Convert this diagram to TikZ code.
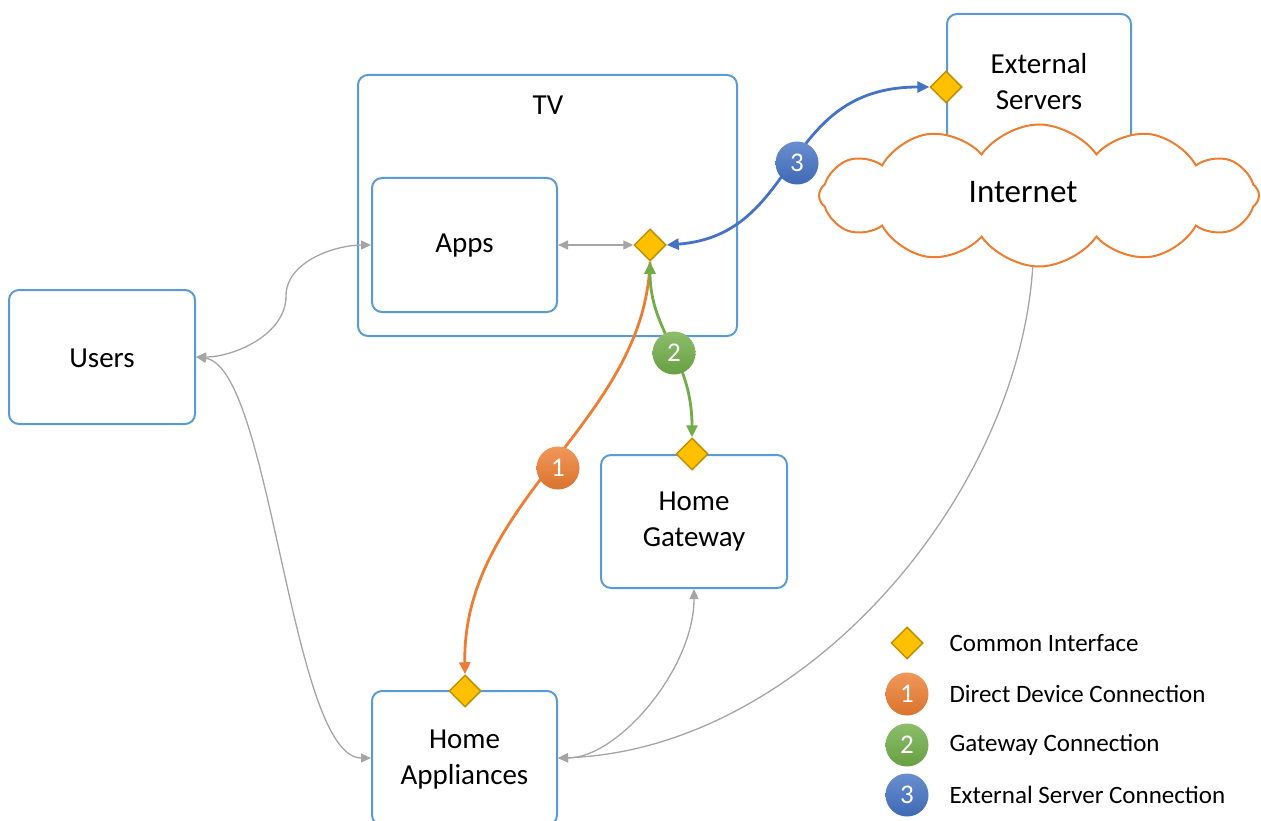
\documentclass[tikz,border=0pt]{standalone}
\usepackage{fontspec}
\setmainfont{Carlito}
\usetikzlibrary{arrows.meta,shapes.geometric,shapes.symbols}
\definecolor{boxblue}{HTML}{5B9BD5}
\definecolor{gold}{HTML}{FFC000}
\definecolor{golddark}{HTML}{BF9000}
\definecolor{orng}{HTML}{ED7D31}
\definecolor{grn}{HTML}{70AD47}
\definecolor{blu}{HTML}{4472C4}
\definecolor{gry}{HTML}{A5A5A5}
\definecolor{cloudor}{HTML}{ED7D31}
\begin{document}
\begin{tikzpicture}[x=1pt,y=-1pt,
  box/.style={draw=boxblue,line width=2pt,rounded corners=10pt,fill=white,inner sep=0pt},
  lbl/.style={font=\fontsize{29}{36}\selectfont,align=center,text=black},
  leg/.style={font=\fontsize{25}{30}\selectfont,anchor=west,text=black},
  iface/.style={diamond,draw=golddark,fill=gold,line width=1.5pt,inner sep=0pt,minimum width=32pt,minimum height=32pt},
  numc/.style={circle,inner sep=0pt,minimum size=43pt,text=white,font=\fontsize{27}{30}\selectfont},
  onum/.style={numc,top color=orng!80!white,bottom color=orng!92!black},
  gnum/.style={numc,top color=grn!80!white,bottom color=grn!92!black},
  bnum/.style={numc,top color=blu!80!white,bottom color=blu!92!black},
  greyboth/.style={draw=gry,line width=1.3pt,{Triangle[length=10pt,width=9pt]}-{Triangle[length=10pt,width=9pt]}},
  greyone/.style={draw=gry,line width=1.3pt,-{Triangle[length=10pt,width=9pt]}},
  colboth/.style={line width=2.8pt,{Triangle[length=12pt,width=11pt]}-{Triangle[length=12pt,width=11pt]}},
  colone/.style={line width=2.8pt,-{Triangle[length=12pt,width=11pt]}}
]
\useasboundingbox (0,0) rectangle (1261,821);
\clip (0,0) rectangle (1261,821);

% boxes
\node[box,minimum width=379pt,minimum height=261pt] (tv) at (547.5,205.5) {};
\node[lbl] (tvtext) at (548,105) {TV};
\node[box,minimum width=185pt,minimum height=134pt] (apps) at (464.5,245) {};
\node[lbl] (appstext) at (464.5,246) {Apps};
\node[box,minimum width=186pt,minimum height=134pt] (users) at (102,357) {};
\node[lbl] (userstext) at (102,358) {Users};
\node[box,minimum width=184pt,minimum height=200pt] (es) at (1039,114) {};
\node[lbl] (estext) at (1039,82) {External\\Servers};
\node[box,minimum width=186pt,minimum height=133pt] (gw) at (694,521.5) {};
\node[lbl] (gwtext) at (694,522) {Home\\Gateway};
\node[box,minimum width=185pt,minimum height=134pt] (ha) at (464.5,758) {};
\node[lbl] (hatext) at (464.5,760) {Home\\Appliances};

% cloud
\node[cloud,cloud puffs=12,cloud puff arc=110,cloud ignores aspect,draw=cloudor,line width=2pt,fill=white,
      minimum width=440pt,minimum height=142pt,inner sep=0pt] (inet) at (1039,195.5) {};
\node[font=\fontsize{33}{40}\selectfont] (inettext) at (1023,192) {Internet};

% interface diamonds
\node[iface] (dtv) at (650,245) {};
\node[iface] (des) at (946,87) {};
\node[iface] (dgw) at (692,454) {};
\node[iface] (dha) at (465,691) {};

% helper coordinate for the S-curve
\coordinate (ua) at (286,296);

% grey connectors
\draw[greyboth] (users.east) to[out=0,in=-90,looseness=0.9] (ua) to[out=90,in=180,looseness=0.9] (apps.west);
\draw[greyboth] (users.east) .. controls +(75,10) and +(-80,0) .. (ha.west);
\draw[greyboth] (apps.east) -- (dtv.west);
\draw[greyboth] (gw.south) .. controls +(0,80) and +(60,0) .. (ha.east);
\draw[greyone] (inet.265) .. controls +(-15,232) and +(243,-8) .. (ha.east);

% coloured connectors
\draw[colboth,draw=blu] (dtv.east) .. controls +(134,-10) and +(-150,0) .. (des.west);
\draw[colone,draw=orng] (dtv.south) .. controls +(-5,160) and +(-3,-175) .. (dha.north);
\draw[colboth,draw=grn] (dtv.south) .. controls +(0,70) and +(0,-80) .. (dgw.north);

% numbered circles
\node[onum] (n1) at (558,468) {1};
\node[gnum] (n2) at (674,353) {2};
\node[bnum] (n3) at (797,163) {3};

% legend
\node[iface] (lgd) at (907,643) {};
\node[leg] (lgdt) at (946,643) {Common Interface};
\node[onum] (lg1) at (907,694) {1};
\node[leg] (lg1t) at (946,694) {Direct Device Connection};
\node[gnum] (lg2) at (907,745) {2};
\node[leg] (lg2t) at (946,745) {Gateway Connection};
\node[bnum] (lg3) at (907,795) {3};
\node[leg] (lg3t) at (946,795) {External Server Connection};
\end{tikzpicture}
\end{document}
